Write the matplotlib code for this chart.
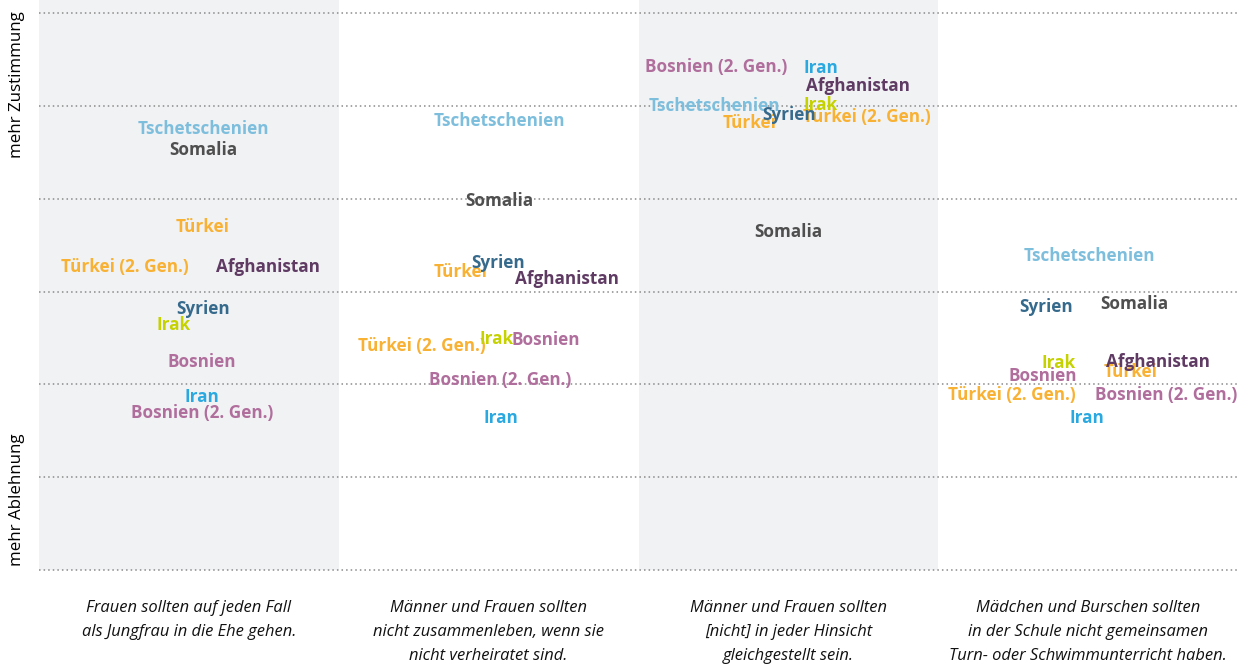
import matplotlib
matplotlib.use("Agg")
import matplotlib.pyplot as plt

# column captions
statements = [
    "Frauen sollten auf jeden Fall\nals Jungfrau in die Ehe gehen.",
    "Männer und Frauen sollten\nnicht zusammenleben, wenn sie\nnicht verheiratet sind.",
    "Männer und Frauen sollten\n[nicht] in jeder Hinsicht\ngleichgestellt sein.",
    "Mädchen und Burschen sollten\nin der Schule nicht gemeinsamen\nTurn- oder Schwimmunterricht haben.",
]

groups = ["Tschetschenien", "Somalia", "Türkei", "Türkei (2. Gen.)", "Afghanistan",
          "Syrien", "Irak", "Bosnien", "Iran", "Bosnien (2. Gen.)"]

colors = {
    "Tschetschenien": "#7dbedd",
    "Somalia": "#4f4f4f",
    "Türkei": "#f8b133",
    "Türkei (2. Gen.)": "#f8b133",
    "Afghanistan": "#5f3a63",
    "Syrien": "#366a8c",
    "Irak": "#c5d200",
    "Bosnien": "#b06e9d",
    "Iran": "#2aa8e0",
    "Bosnien (2. Gen.)": "#b06e9d",
}

# agreement scores (0 = mehr Ablehnung, 6 = mehr Zustimmung), per statement
# None: label not visible in the original (hidden under another one)
scores_1 = [4.75, 4.52, 3.69, 3.26, 3.26, 2.81, 2.64, 2.24, 1.86, 1.69]
scores_2 = [4.84, 3.97, 3.21, 2.41, 3.13, 3.31, 2.49, 2.48, 1.64, 2.05]
scores_3 = [5.00, 3.64, 4.82, 4.88, 5.21, 4.90, 5.01, None, 5.41, 5.42]
scores_4 = [3.38, 2.87, 2.13, 1.885, 2.24, 2.83, 2.23, 2.09, 1.64, 1.885]

# horizontal label placement inside each column (0..1)
xpos_1 = [0.547, 0.547, 0.547, 0.287, 0.764, 0.547, 0.45, 0.544, 0.544, 0.544]
xpos_2 = [0.537, 0.537, 0.407, 0.277, 0.76, 0.533, 0.527, 0.69, 0.54, 0.54]
xpos_3 = [0.253, 0.5, 0.37, 0.763, 0.733, 0.503, 0.607, 0.26, 0.607, 0.26]
xpos_4 = [0.503, 0.653, 0.64, 0.247, 0.733, 0.36, 0.40, 0.35, 0.497, 0.76]

scores = [scores_1, scores_2, scores_3, scores_4]
xpos = [xpos_1, xpos_2, xpos_3, xpos_4]

W, H = 1252, 664
fig = plt.figure(figsize=(W / 100, H / 100), dpi=100)
ax = fig.add_axes([39 / W, (H - 570) / H, 1199 / W, 570 / H])
ax.set_xlim(0, 4)
ax.set_ylim(0, 570 / 92.83)
ax.axis("off")

# alternating grey bands
for i in range(0, 4, 2):
    ax.axvspan(i, i + 1, color="#f1f2f4", lw=0, zorder=0)

for y in range(7):
    ax.axhline(y, color="#8a8a8a", ls=(0, (1, 2)), lw=1.1, zorder=1, clip_on=False)

lab_font = dict(family=["Open Sans", "DejaVu Sans"], weight="bold", size=12.3)
for col in range(4):
    for g, v, xp in zip(groups, scores[col], xpos[col]):
        if v is None:
            continue
        ax.text(col + xp, v, g, color=colors[g], ha="center", va="center",
                zorder=3, **lab_font)

cap_font = dict(family=["Open Sans", "DejaVu Sans"], style="italic", size=11.9)
for col, s in enumerate(statements):
    fig.text((39 + 299.75 * (col + 0.5)) / W, 1 - 600 / H, s, ha="center", va="top",
             linespacing=1.66, color="#111111", **cap_font)

ax_font = dict(family=["Open Sans", "DejaVu Sans"], size=12.2)
fig.text(17 / W, 1 - 85 / H, "mehr Zustimmung", rotation=90, ha="center", va="center", **ax_font)
fig.text(17 / W, 1 - 500 / H, "mehr Ablehnung", rotation=90, ha="center", va="center", **ax_font)

fig.savefig("out.png", dpi=100)
